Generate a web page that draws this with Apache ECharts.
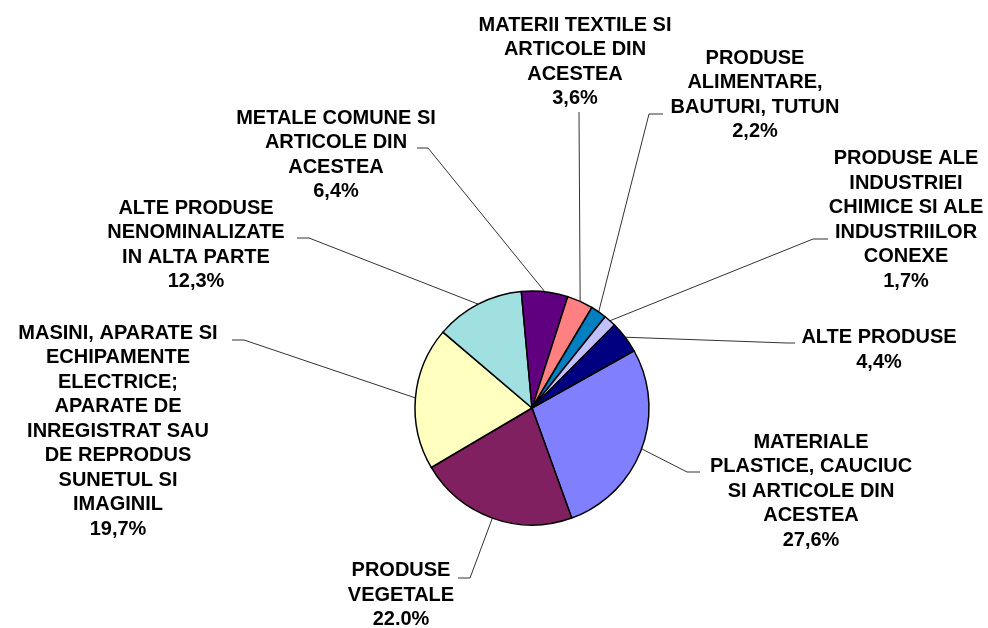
<!DOCTYPE html>
<html lang="ro">

<head>
    <meta charset="UTF-8">
    <title>Structura pe grupe de produse</title>
    <script src="https://cdn.jsdelivr.net/npm/echarts@6/dist/echarts.min.js"></script>
    <style>
        html, body { margin: 0; padding: 0; background: #fff; }
        #chart { width: 988px; height: 628px; }
    </style>
</head>

<body>
    <div id="chart"></div>
</body>
<script>
    // data, in the order the slices are drawn (clockwise)
    var categories = [
        'MATERIALE\nPLASTICE, CAUCIUC\nSI ARTICOLE DIN\nACESTEA',
        'PRODUSE\nVEGETALE',
        'MASINI, APARATE SI\nECHIPAMENTE\nELECTRICE;\nAPARATE DE\nINREGISTRAT SAU\nDE REPRODUS\nSUNETUL SI\nIMAGINIL',
        'ALTE PRODUSE\nNENOMINALIZATE\nIN ALTA PARTE',
        'METALE COMUNE SI\nARTICOLE DIN\nACESTEA',
        'MATERII TEXTILE SI\nARTICOLE DIN\nACESTEA',
        'PRODUSE\nALIMENTARE,\nBAUTURI, TUTUN',
        'PRODUSE ALE\nINDUSTRIEI\nCHIMICE SI ALE\nINDUSTRIILOR\nCONEXE',
        'ALTE PRODUSE'
    ];
    var values = [27.6, 22.0, 19.7, 12.3, 6.4, 3.6, 2.2, 1.7, 4.4];
    var pctLabels = ['27,6%', '22.0%', '19,7%', '12,3%', '6,4%', '3,6%', '2,2%', '1,7%', '4,4%'];

    var colors = ['#8080FF', '#802060', '#FFFFC0', '#A0E0E0', '#600080', '#FF8080', '#0080C0', '#C0C0FF', '#000080'];

    // where each label sits, and where its leader line ends
    var labelCenters = [[811, 491], [401, 595], [118, 431], [196, 245], [336, 155], [575, 62], [755, 95], [906, 220], [879, 350]];
    var leaderEnds = [
        [[687, 472], [700, 472]],
        [[470, 578], [458, 578]],
        [[244, 340], [232, 340]],
        [[309, 238], [297, 238]],
        [[428, 148], [417, 148]],
        [[579, 112], [579, 112]],
        [[649, 114], [663, 114]],
        [[813, 239], [828, 239]],
        [[787, 343], [795, 343]]
    ];

    var my = echarts.init(document.getElementById('chart'));

    var option = {
        backgroundColor: '#fff',
        animation: false,
        series: [{
            type: 'pie',
            center: [532, 408],
            radius: 117,
            startAngle: 29.3,
            clockwise: true,
            avoidLabelOverlap: false,
            data: values.map(function (v, i) {
                return { name: categories[i], value: v, itemStyle: { color: colors[i] } };
            }),
            itemStyle: {
                borderColor: '#000',
                borderWidth: 1.5
            },
            label: {
                show: true,
                position: 'outside',
                formatter: function (p) {
                    return p.name + '\n' + pctLabels[p.dataIndex];
                },
                fontFamily: 'Liberation Sans, Arial, sans-serif',
                fontWeight: 'bold',
                fontSize: 20,
                lineHeight: 24.5,
                color: '#000',
                align: 'center'
            },
            labelLine: {
                show: true,
                length: 20,
                length2: 10,
                lineStyle: { color: '#333', width: 1 }
            },
            labelLayout: function (params) {
                var i = params.dataIndex;
                var start = params.labelLinePoints ? params.labelLinePoints[0] : null;
                var out = {
                    x: labelCenters[i][0],
                    y: labelCenters[i][1],
                    align: 'center',
                    verticalAlign: 'middle'
                };
                if (start) {
                    out.labelLinePoints = [start, leaderEnds[i][0], leaderEnds[i][1]];
                }
                return out;
            },
            emphasis: { disabled: true }
        }]
    };

    my.setOption(option);
</script>

</html>
